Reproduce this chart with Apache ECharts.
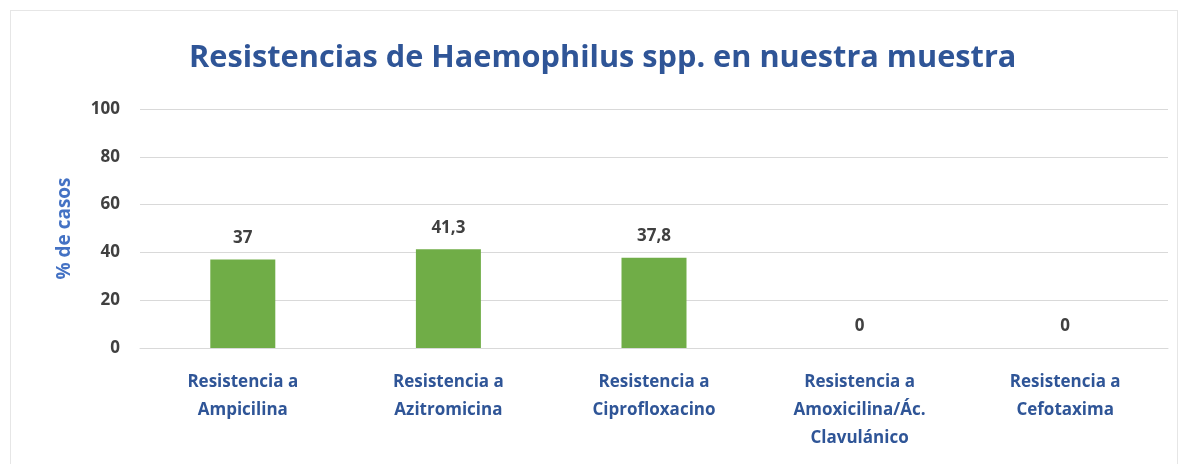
<!DOCTYPE html>
<html><head><meta charset="utf-8">
<script src="https://cdn.jsdelivr.net/npm/echarts@6/dist/echarts.min.js"></script>
<style>html,body{margin:0;padding:0;background:#fff}#c{width:1182px;height:464px}
#frame{position:absolute;left:10px;top:10px;width:1168px;height:460px;border:1px solid #e6e6e6;box-sizing:border-box;pointer-events:none}</style>
</head><body><div id="c"></div><div id="frame"></div>
<script>
const categories = ['Resistencia a\nAmpicilina','Resistencia a\nAzitromicina','Resistencia a\nCiprofloxacino','Resistencia a\nAmoxicilina/Ác.\nClavulánico','Resistencia a\nCefotaxima'];
const values = [37, 41.3, 37.8, 0, 0];
const yTicks = [0, 20, 40, 60, 80, 100];
const titleText = 'Resistencias de Haemophilus spp. en nuestra muestra';
const yName = '% de casos';
const FONT = '"Open Sans", sans-serif';
const chart = echarts.init(document.getElementById('c'), null, {renderer:'canvas'});
chart.setOption({
  animation:false,
  title:{text:titleText,left:184,top:38,textStyle:{fontFamily:FONT,fontSize:30.7,fontWeight:'bold',color:'#2F5597'}},
  grid:{left:140,right:14,top:109,bottom:116},
  xAxis:{type:'category',data:categories,
    axisLine:{lineStyle:{color:'#d9d9d9',width:1}},axisTick:{show:false},
    axisLabel:{interval:0,margin:20,fontFamily:FONT,fontSize:17,fontWeight:'bold',color:'#2F5597',lineHeight:28}},
  yAxis:{type:'value',min:yTicks[0],max:yTicks[yTicks.length-1],interval:20,
    name:yName,nameLocation:'middle',nameGap:66,nameRotate:90,
    nameTextStyle:{fontFamily:FONT,fontSize:19,fontWeight:'bold',color:'#4472C4'},
    axisLine:{show:false},axisTick:{show:false},
    axisLabel:{margin:20,fontFamily:FONT,fontSize:17,fontWeight:'bold',color:'#404040'},
    splitLine:{lineStyle:{color:'#d9d9d9',width:1}}},
  series:[{type:'bar',data:values,barWidth:65,itemStyle:{color:'#70AD47'},
    label:{show:true,position:'top',distance:13,fontFamily:FONT,fontSize:17,fontWeight:'bold',color:'#404040',
      formatter:p=>String(p.value).replace('.',',')}}]
});
</script></body></html>
